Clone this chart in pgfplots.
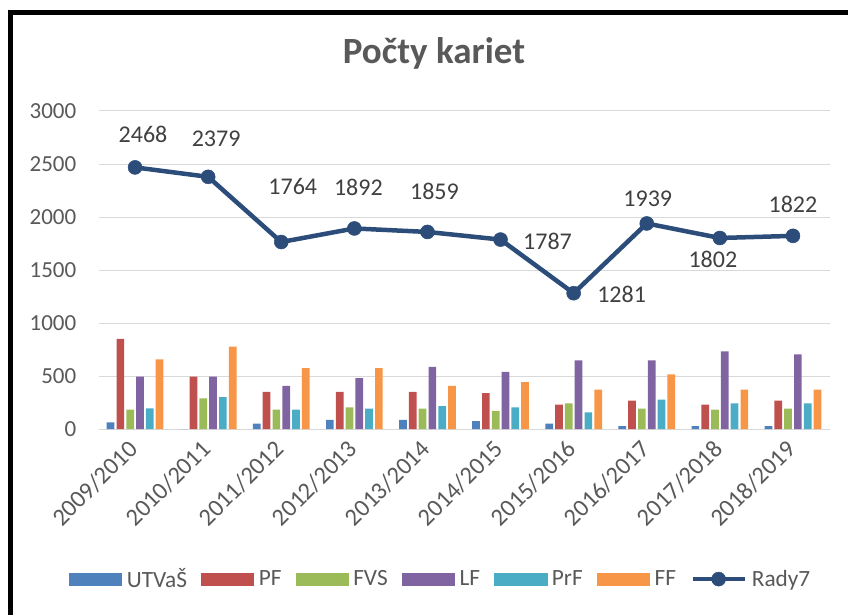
\documentclass[border=0pt]{standalone}
\usepackage{fontspec}
\setmainfont{Carlito}
\usepackage{pgfplots}
\usepackage{pgfplotstable}
\pgfplotsset{compat=1.18}

\definecolor{cUTV}{HTML}{4F81BD}
\definecolor{cPF}{HTML}{C0504D}
\definecolor{cFVS}{HTML}{9BBB59}
\definecolor{cLF}{HTML}{8064A2}
\definecolor{cPrF}{HTML}{4BACC6}
\definecolor{cFF}{HTML}{F79646}
\definecolor{rady}{HTML}{2C4D7A}
\definecolor{gridgray}{HTML}{D9D9D9}
\definecolor{labelgray}{HTML}{595959}
\definecolor{datagray}{HTML}{404040}

\newcommand\fs[1]{\fontsize{#1}{#1}\selectfont}
\newcommand\barleg[1]{\addlegendimage{legend image code/.code={\fill[#1] (0pt,-6.4pt) rectangle (52pt,6.4pt);}}}

% bar values per faculty
\pgfplotstableread{
x UTV PF  FVS LF  PrF FF
0 62  850 183 495 195 657
1 0   495 288 495 300 778
2 50  350 183 406 183 574
3 87  350 205 481 192 574
4 87  350 192 586 217 406
5 74  338 171 539 205 443
6 50  229 242 648 158 372
7 28  267 192 648 276 515
8 28  229 183 732 242 372
9 28  267 192 704 242 372
}\bars

% line values, with label offsets
\pgfplotstableread{
x y    dx   dy
0 2468 8    33
1 2379 8    38
2 1764 11.5 56
3 1892 4    41
4 1859 7    41
5 1787 47   -2
6 1281 48   -1
7 1939 1    25
8 1802 -7   -21
9 1822 0    31.5
}\rady

\pgfplotsset{
  base/.style={
    scale only axis, width=731pt, height=318pt,
    xmin=-0.5, xmax=9.5, ymin=0, ymax=3000,
    at={(98.5pt,185pt)}, anchor=south west,
    /pgf/number format/1000 sep={},
    /pgf/number format/assume math mode=true,
  },
  radyleg/.style={
    legend image code/.code={\draw[##1, mark repeat=2, mark phase=2] plot coordinates {(0pt,0pt) (26pt,0pt) (52pt,0pt)};}
  },
}

\begin{document}
\begin{tikzpicture}
\useasboundingbox (0pt,0pt) rectangle (848pt,614pt);
\draw[line width=5pt] (10.5pt,-3pt) -- (10.5pt,601.5pt) -- (851pt,601.5pt);
\node[font=\bfseries\fs{37}, text=labelgray, anchor=base] at (434pt,550pt) {Počty kariet};

\begin{axis}[base,
  ybar=2.1pt, bar width=7.7pt,
  axis lines*=left, axis line style={draw=none},
  x axis line style={draw=gridgray, line width=1pt},
  tick style={draw=none},
  ytick={0,500,...,3000}, ymajorgrids,
  grid style={draw=gridgray, line width=1pt},
  xtick={0,...,9},
  xticklabels={2009/2010,2010/2011,2011/2012,2012/2013,2013/2014,2014/2015,2015/2016,2016/2017,2017/2018,2018/2019},
  xticklabel style={xshift=-8pt, yshift=-5pt, rotate=45, anchor=north east, inner sep=0pt, font=\fs{24.5}, text=labelgray},
  yticklabel style={anchor=east, inner sep=0pt, xshift=-22pt, font=\fs{23}, text=labelgray},
  scaled y ticks=false,
]
\addplot[fill=cUTV, draw=none] table[x=x, y=UTV] {\bars};
\addplot[fill=cPF, draw=none] table[x=x, y=PF] {\bars};
\addplot[fill=cFVS, draw=none] table[x=x, y=FVS] {\bars};
\addplot[fill=cLF, draw=none] table[x=x, y=LF] {\bars};
\addplot[fill=cPrF, draw=none] table[x=x, y=PrF] {\bars};
\addplot[fill=cFF, draw=none] table[x=x, y=FF] {\bars};
\end{axis}

\begin{axis}[base, hide axis, clip=false,
  legend columns=7,
  legend style={at={(0.467,-0.472)}, anchor=center, draw=none, fill=none,
    font=\fs{23.3}, text=labelgray, nodes={inner sep=0pt},
    /tikz/every odd column/.append style={column sep=5pt},
    /tikz/every even column/.append style={column sep=14.4pt}},
]
\barleg{cUTV} \addlegendentry{UTVaŠ}
\barleg{cPF} \addlegendentry{PF}
\barleg{cFVS} \addlegendentry{FVS}
\barleg{cLF} \addlegendentry{LF}
\barleg{cPrF} \addlegendentry{PrF}
\barleg{cFF} \addlegendentry{FF}
\addplot[rady, line width=4.5pt, mark=*, mark size=7pt,
  mark options={solid, line width=0.5pt, fill=rady},
  visualization depends on={\thisrow{dx} \as \dx},
  visualization depends on={\thisrow{dy} \as \dy},
  nodes near coords,
  every node near coord/.append style={anchor=center, inner sep=0pt,
    font=\fs{24}, text=datagray, xshift=\dx pt, yshift=\dy pt},
  radyleg,
] table[x=x, y=y] {\rady};
\addlegendentry{Rady7}
\end{axis}
\end{tikzpicture}
\end{document}
